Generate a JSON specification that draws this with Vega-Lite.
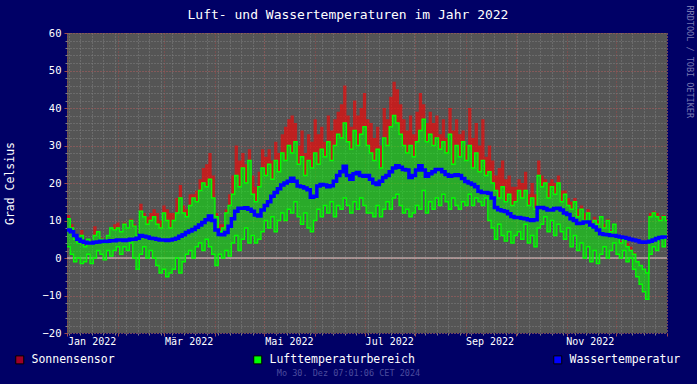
{
"$schema": "https://vega.github.io/schema/vega-lite/v6.json",
"width": 600, "height": 300,
"autosize": {"type": "none"},
"padding": {"left": 67, "top": 33, "right": 30, "bottom": 51},
"background": "#000066",
"title": {"text": "Luft- und Wassertemperaturen im Jahr 2022", "font": "DejaVu Sans Mono", "fontSize": 13, "fontWeight": "normal", "color": "#ffffff", "anchor": "middle", "dx": -19, "offset": -30, "baseline": "bottom"},
"config": {"view": {"fill": "#555555", "stroke": null}},
"data": {"values": [
{"d":"2022-01-01","lo":3,"hi":10.5,"sun":11.5,"w":7.5},
{"d":"2022-01-03","lo":1,"hi":8,"sun":9,"w":7},
{"d":"2022-01-05","lo":-1,"hi":5,"sun":5,"w":6},
{"d":"2022-01-07","lo":0,"hi":4,"sun":4,"w":5},
{"d":"2022-01-09","lo":-1.5,"hi":6,"sun":7.5,"w":4.5},
{"d":"2022-01-11","lo":-1,"hi":3,"sun":3,"w":4.2},
{"d":"2022-01-13","lo":1,"hi":5,"sun":5,"w":4},
{"d":"2022-01-15","lo":-1.5,"hi":4,"sun":4,"w":4},
{"d":"2022-01-17","lo":0,"hi":6,"sun":8.5,"w":4.2},
{"d":"2022-01-19","lo":2,"hi":7,"sun":7,"w":4.3},
{"d":"2022-01-21","lo":1,"hi":5,"sun":5.5,"w":4.5},
{"d":"2022-01-23","lo":-0.5,"hi":4,"sun":4,"w":4.4},
{"d":"2022-01-25","lo":2,"hi":6,"sun":6,"w":4.5},
{"d":"2022-01-27","lo":0.5,"hi":8,"sun":8,"w":4.6},
{"d":"2022-01-29","lo":2,"hi":7.5,"sun":9,"w":4.6},
{"d":"2022-01-31","lo":3,"hi":8,"sun":9.5,"w":4.8},
{"d":"2022-02-02","lo":1,"hi":7,"sun":7,"w":4.8},
{"d":"2022-02-04","lo":3,"hi":9,"sun":9.5,"w":4.7},
{"d":"2022-02-06","lo":2,"hi":8,"sun":8,"w":4.8},
{"d":"2022-02-08","lo":4,"hi":10,"sun":10.5,"w":5},
{"d":"2022-02-10","lo":0,"hi":8.5,"sun":9,"w":5},
{"d":"2022-02-12","lo":-3,"hi":6,"sun":6,"w":5.3},
{"d":"2022-02-14","lo":1,"hi":12.5,"sun":14.5,"w":6},
{"d":"2022-02-16","lo":3,"hi":11,"sun":12,"w":5.8},
{"d":"2022-02-18","lo":0,"hi":9,"sun":11,"w":5.6},
{"d":"2022-02-20","lo":2,"hi":10,"sun":12,"w":5.3},
{"d":"2022-02-22","lo":0,"hi":11,"sun":13,"w":5.2},
{"d":"2022-02-24","lo":-2,"hi":9,"sun":12,"w":5},
{"d":"2022-02-26","lo":-4,"hi":8,"sun":10,"w":4.8},
{"d":"2022-02-28","lo":-3,"hi":12,"sun":14,"w":4.8},
{"d":"2022-03-02","lo":-5,"hi":10,"sun":13,"w":4.7},
{"d":"2022-03-04","lo":-4,"hi":8,"sun":12,"w":4.8},
{"d":"2022-03-06","lo":-3,"hi":10,"sun":12,"w":5},
{"d":"2022-03-08","lo":0,"hi":12,"sun":16,"w":5.3},
{"d":"2022-03-10","lo":-4,"hi":16,"sun":19.5,"w":5.8},
{"d":"2022-03-12","lo":-1,"hi":12,"sun":14,"w":6.2},
{"d":"2022-03-14","lo":1,"hi":11,"sun":13,"w":6.8},
{"d":"2022-03-16","lo":2,"hi":14,"sun":17,"w":7.2},
{"d":"2022-03-18","lo":0,"hi":16,"sun":17,"w":7.6},
{"d":"2022-03-20","lo":3,"hi":15,"sun":18,"w":8.2},
{"d":"2022-03-22","lo":4,"hi":18,"sun":21,"w":8.8},
{"d":"2022-03-24","lo":2,"hi":20,"sun":24,"w":9.5},
{"d":"2022-03-26","lo":5,"hi":19,"sun":25,"w":10.2},
{"d":"2022-03-28","lo":3,"hi":21,"sun":28,"w":11.2},
{"d":"2022-03-30","lo":1,"hi":16,"sun":22,"w":10},
{"d":"2022-04-01","lo":-2,"hi":11,"sun":12,"w":7.5},
{"d":"2022-04-03","lo":1,"hi":7,"sun":9,"w":6.3},
{"d":"2022-04-05","lo":0,"hi":8,"sun":9,"w":6.2},
{"d":"2022-04-07","lo":2,"hi":12,"sun":13,"w":6.8},
{"d":"2022-04-09","lo":0.5,"hi":14,"sun":17,"w":8.5},
{"d":"2022-04-11","lo":4,"hi":17,"sun":22,"w":10.5},
{"d":"2022-04-13","lo":6,"hi":22,"sun":30,"w":12.5},
{"d":"2022-04-15","lo":2,"hi":19,"sun":26,"w":13.3},
{"d":"2022-04-17","lo":5,"hi":24,"sun":28,"w":13.3},
{"d":"2022-04-19","lo":8,"hi":20,"sun":25,"w":13.4},
{"d":"2022-04-21","lo":4,"hi":26,"sun":29,"w":13},
{"d":"2022-04-23","lo":6,"hi":17,"sun":22,"w":12.5},
{"d":"2022-04-25","lo":4,"hi":15,"sun":19,"w":11.5},
{"d":"2022-04-27","lo":5,"hi":19,"sun":23,"w":11.2},
{"d":"2022-04-29","lo":7,"hi":24,"sun":29,"w":12.8},
{"d":"2022-05-01","lo":10,"hi":22,"sun":27,"w":14},
{"d":"2022-05-03","lo":8,"hi":25,"sun":29,"w":15},
{"d":"2022-05-05","lo":11,"hi":21,"sun":26,"w":16.5},
{"d":"2022-05-07","lo":7,"hi":26,"sun":31,"w":17.5},
{"d":"2022-05-09","lo":10,"hi":23,"sun":28,"w":18.5},
{"d":"2022-05-11","lo":12,"hi":28,"sun":33,"w":19.5},
{"d":"2022-05-13","lo":10,"hi":26,"sun":35,"w":20},
{"d":"2022-05-15","lo":13,"hi":30,"sun":37,"w":20.5},
{"d":"2022-05-17","lo":12,"hi":28,"sun":38,"w":21.3},
{"d":"2022-05-19","lo":15,"hi":31,"sun":36,"w":20.5},
{"d":"2022-05-21","lo":11,"hi":25,"sun":30,"w":19.2},
{"d":"2022-05-23","lo":9,"hi":27,"sun":34,"w":19},
{"d":"2022-05-25","lo":12,"hi":22,"sun":28,"w":18.7},
{"d":"2022-05-27","lo":8,"hi":26,"sun":33,"w":18.2},
{"d":"2022-05-29","lo":7,"hi":24,"sun":31,"w":16.2},
{"d":"2022-05-31","lo":10,"hi":28,"sun":37,"w":16.5},
{"d":"2022-06-02","lo":13,"hi":25,"sun":33,"w":19.2},
{"d":"2022-06-04","lo":11,"hi":29,"sun":35,"w":19.6},
{"d":"2022-06-06","lo":14,"hi":27,"sun":31,"w":19.5},
{"d":"2022-06-08","lo":12,"hi":31,"sun":38,"w":19},
{"d":"2022-06-10","lo":15,"hi":26,"sun":34,"w":19.3},
{"d":"2022-06-12","lo":11,"hi":30,"sun":37,"w":20.5},
{"d":"2022-06-14","lo":14,"hi":33,"sun":39,"w":22},
{"d":"2022-06-16","lo":13,"hi":32,"sun":41,"w":23},
{"d":"2022-06-18","lo":16,"hi":36,"sun":46,"w":24.5},
{"d":"2022-06-20","lo":14,"hi":31,"sun":38,"w":22},
{"d":"2022-06-22","lo":12,"hi":29,"sun":35,"w":21},
{"d":"2022-06-24","lo":15,"hi":34,"sun":42,"w":22.5},
{"d":"2022-06-26","lo":13,"hi":30,"sun":38,"w":22.8},
{"d":"2022-06-28","lo":16,"hi":33,"sun":40,"w":22},
{"d":"2022-06-30","lo":14,"hi":35,"sun":44,"w":21.8},
{"d":"2022-07-02","lo":12,"hi":30,"sun":37,"w":22},
{"d":"2022-07-04","lo":12,"hi":28,"sun":36,"w":21},
{"d":"2022-07-06","lo":11,"hi":26,"sun":32,"w":20},
{"d":"2022-07-08","lo":14,"hi":29,"sun":35,"w":19.6},
{"d":"2022-07-10","lo":11,"hi":24,"sun":30,"w":20.5},
{"d":"2022-07-12","lo":13,"hi":32,"sun":40,"w":21.5},
{"d":"2022-07-14","lo":15,"hi":30,"sun":37,"w":22},
{"d":"2022-07-16","lo":13,"hi":35,"sun":43,"w":23},
{"d":"2022-07-18","lo":16,"hi":38,"sun":47,"w":24},
{"d":"2022-07-20","lo":17,"hi":36,"sun":45,"w":24.6},
{"d":"2022-07-22","lo":14,"hi":33,"sun":41,"w":24.2},
{"d":"2022-07-24","lo":12,"hi":30,"sun":37,"w":23.6},
{"d":"2022-07-26","lo":13,"hi":28,"sun":34,"w":23.5},
{"d":"2022-07-28","lo":11,"hi":30,"sun":38,"w":21.5},
{"d":"2022-07-30","lo":12,"hi":27,"sun":33,"w":22},
{"d":"2022-08-01","lo":14,"hi":31,"sun":39,"w":23.5},
{"d":"2022-08-03","lo":13,"hi":34,"sun":44,"w":24.6},
{"d":"2022-08-05","lo":18,"hi":37,"sun":41,"w":23.5},
{"d":"2022-08-07","lo":12,"hi":31,"sun":36,"w":21.8},
{"d":"2022-08-09","lo":15,"hi":33,"sun":39,"w":22.5},
{"d":"2022-08-11","lo":13,"hi":30,"sun":36,"w":23},
{"d":"2022-08-13","lo":16,"hi":32,"sun":38,"w":23.6},
{"d":"2022-08-15","lo":14,"hi":29,"sun":33,"w":23.6},
{"d":"2022-08-17","lo":17,"hi":31,"sun":37,"w":23},
{"d":"2022-08-19","lo":15,"hi":28,"sun":32,"w":22.3},
{"d":"2022-08-21","lo":13,"hi":33,"sun":40,"w":21.8},
{"d":"2022-08-23","lo":16,"hi":25,"sun":34,"w":22},
{"d":"2022-08-25","lo":14,"hi":30,"sun":37,"w":22.2},
{"d":"2022-08-27","lo":13,"hi":27,"sun":33,"w":22},
{"d":"2022-08-29","lo":15,"hi":31,"sun":34,"w":21.2},
{"d":"2022-08-31","lo":14,"hi":26,"sun":30,"w":20.4},
{"d":"2022-09-02","lo":17,"hi":30,"sun":40,"w":20},
{"d":"2022-09-04","lo":14,"hi":24,"sun":32,"w":19.6},
{"d":"2022-09-06","lo":16,"hi":28,"sun":36,"w":19},
{"d":"2022-09-08","lo":15,"hi":23,"sun":30,"w":17.8},
{"d":"2022-09-10","lo":14,"hi":26,"sun":37,"w":17.5},
{"d":"2022-09-12","lo":16,"hi":22,"sun":27,"w":17.5},
{"d":"2022-09-14","lo":10,"hi":23,"sun":30,"w":17.3},
{"d":"2022-09-16","lo":8,"hi":20,"sun":26,"w":16},
{"d":"2022-09-18","lo":5,"hi":18,"sun":22,"w":13.5},
{"d":"2022-09-20","lo":9,"hi":16,"sun":24,"w":12.9},
{"d":"2022-09-22","lo":6,"hi":19,"sun":26,"w":12.6},
{"d":"2022-09-24","lo":4.5,"hi":15,"sun":21,"w":12.4},
{"d":"2022-09-26","lo":7,"hi":17,"sun":22,"w":11.8},
{"d":"2022-09-28","lo":4,"hi":14,"sun":19,"w":11.1},
{"d":"2022-09-30","lo":6,"hi":15,"sun":19,"w":10.8},
{"d":"2022-10-02","lo":7,"hi":18,"sun":21,"w":10.8},
{"d":"2022-10-04","lo":5,"hi":16,"sun":20,"w":10.6},
{"d":"2022-10-06","lo":9,"hi":18,"sun":23,"w":10.5},
{"d":"2022-10-08","lo":4,"hi":14,"sun":17,"w":10.2},
{"d":"2022-10-10","lo":6,"hi":16,"sun":20,"w":10},
{"d":"2022-10-12","lo":3,"hi":13,"sun":17,"w":10.2},
{"d":"2022-10-14","lo":8,"hi":22,"sun":26,"w":13.5},
{"d":"2022-10-16","lo":9,"hi":19,"sun":22,"w":13.5},
{"d":"2022-10-18","lo":11,"hi":20,"sun":21,"w":13.2},
{"d":"2022-10-20","lo":7,"hi":16,"sun":20,"w":12.8},
{"d":"2022-10-22","lo":10,"hi":19,"sun":21,"w":12.8},
{"d":"2022-10-24","lo":6,"hi":17,"sun":20,"w":13.2},
{"d":"2022-10-26","lo":9,"hi":20,"sun":22,"w":13.3},
{"d":"2022-10-28","lo":7,"hi":15,"sun":18,"w":12.8},
{"d":"2022-10-30","lo":5,"hi":17,"sun":18,"w":12},
{"d":"2022-11-01","lo":8,"hi":14,"sun":16,"w":11.6},
{"d":"2022-11-03","lo":3,"hi":13,"sun":15,"w":10.5},
{"d":"2022-11-05","lo":6,"hi":15,"sun":16,"w":10},
{"d":"2022-11-07","lo":2,"hi":11,"sun":13,"w":9.2},
{"d":"2022-11-09","lo":4,"hi":13,"sun":14,"w":9.3},
{"d":"2022-11-11","lo":0,"hi":10,"sun":12,"w":9.6},
{"d":"2022-11-13","lo":3,"hi":12,"sun":13,"w":9.6},
{"d":"2022-11-15","lo":-1,"hi":8,"sun":10,"w":8.8},
{"d":"2022-11-17","lo":2,"hi":10,"sun":11,"w":8.3},
{"d":"2022-11-19","lo":-1.5,"hi":9,"sun":10,"w":7.5},
{"d":"2022-11-21","lo":1,"hi":11,"sun":11,"w":6.5},
{"d":"2022-11-23","lo":3,"hi":8,"sun":9,"w":6.3},
{"d":"2022-11-25","lo":0,"hi":10,"sun":10.5,"w":6.2},
{"d":"2022-11-27","lo":2,"hi":7,"sun":7.5,"w":6},
{"d":"2022-11-29","lo":4,"hi":9,"sun":9,"w":6},
{"d":"2022-12-01","lo":1,"hi":6,"sun":6,"w":5.8},
{"d":"2022-12-03","lo":0,"hi":4,"sun":4.5,"w":5.6},
{"d":"2022-12-05","lo":2,"hi":5,"sun":5,"w":5.5},
{"d":"2022-12-07","lo":-1,"hi":3,"sun":4,"w":5.3},
{"d":"2022-12-09","lo":0,"hi":2,"sun":3,"w":5},
{"d":"2022-12-11","lo":-3,"hi":1,"sun":1.5,"w":4.8},
{"d":"2022-12-13","lo":-5,"hi":-1,"sun":-1,"w":4.6},
{"d":"2022-12-15","lo":-7,"hi":-2,"sun":-2,"w":4.3},
{"d":"2022-12-17","lo":-9,"hi":-3,"sun":-3,"w":4.2},
{"d":"2022-12-19","lo":-11,"hi":-4,"sun":-4,"w":4.3},
{"d":"2022-12-21","lo":1,"hi":11,"sun":12,"w":4.5},
{"d":"2022-12-23","lo":3,"hi":12,"sun":12.5,"w":4.8},
{"d":"2022-12-25","lo":2,"hi":11,"sun":12,"w":5.2},
{"d":"2022-12-27","lo":5,"hi":10,"sun":11,"w":5.5},
{"d":"2022-12-29","lo":3,"hi":11,"sun":11.5,"w":5.6},
{"d":"2022-12-31","lo":6,"hi":10,"sun":10.5,"w":5.6},
{"d":"2023-01-01","lo":6,"hi":10,"sun":10.5,"w":5.6}
]},
"layer": [
{"data": {"values": [{"v": 0}]},
 "mark": {"type": "rule", "color": "#e6cccc", "strokeWidth": 1},
 "encoding": {"y": {"field": "v", "type": "quantitative", "scale": {"domain": [-20, 60], "nice": false, "zero": false}, "axis": null}}},
{"mark": {"type": "area", "interpolate": "step-after", "fillOpacity": 0.62},
 "encoding": {
  "x": {"field": "d", "type": "temporal", "scale": {"type": "utc", "domain": [{"year": 2022, "month": 1, "date": 1, "utc": true}, {"year": 2023, "month": 1, "date": 1, "utc": true}]},
   "axis": {"orient": "bottom", "title": null, "labels": false, "domain": false, "tickCount": {"interval": "week", "step": 1}, "grid": true, "gridColor": "#828282", "gridDash": [1, 2], "gridOpacity": 1, "ticks": true, "tickSize": 2, "tickColor": "#828282"}},
  "y": {"field": "hi", "type": "quantitative", "scale": {"domain": [-20, 60], "nice": false, "zero": false},
   "axis": {"orient": "left", "title": null, "labels": false, "domain": false, "values": [-20,-18,-16,-14,-12,-10,-8,-6,-4,-2,0,2,4,6,8,10,12,14,16,18,20,22,24,26,28,30,32,34,36,38,40,42,44,46,48,50,52,54,56,58,60], "grid": true, "gridColor": "#828282", "gridDash": [1, 2], "gridOpacity": 1, "ticks": true, "tickSize": 2, "tickColor": "#828282"}},
  "y2": {"field": "sun"},
  "color": {"datum": "Sonnensensor", "type": "nominal",
   "scale": {"domain": ["Sonnensensor", "Lufttemperaturbereich", "Wassertemperatur"], "range": ["#ff0000", "#00ff00", "#0000ff"]},
   "legend": {"title": null, "orient": "none", "direction": "horizontal", "legendX": -53, "legendY": 321, "padding": 0, "symbolType": "square", "symbolSize": 64, "symbolStrokeColor": "#000000", "symbolStrokeWidth": 1, "labelFont": "DejaVu Sans Mono", "labelFontSize": 11.5, "labelColor": "#ffffff", "labelOffset": 6, "labelLimit": 400, "columnPadding": 136,
    "encode": {"symbols": {"update": {"fillOpacity": {"signal": "datum.value === 'Sonnensensor' ? 0.62 : 1"}, "opacity": {"value": 1}, "stroke": {"value": "#000000"}, "strokeWidth": {"value": 1}}}}}}
 }},
{"mark": {"type": "area", "interpolate": "step-after", "color": "#00ff00", "fillOpacity": 0.5},
 "encoding": {
  "x": {"field": "d", "type": "temporal", "scale": {"type": "utc", "domain": [{"year": 2022, "month": 1, "date": 1, "utc": true}, {"year": 2023, "month": 1, "date": 1, "utc": true}]},
   "axis": {"orient": "bottom", "title": null, "labels": false, "domain": false, "tickCount": {"interval": "month", "step": 1}, "grid": true, "gridColor": "#9e4a4a", "gridDash": [1, 2], "gridOpacity": 1, "ticks": true, "tickSize": 3, "tickColor": "#9e4a4a"}},
  "y": {"field": "lo", "type": "quantitative", "scale": {"domain": [-20, 60], "nice": false, "zero": false},
   "axis": {"orient": "left", "title": "Grad Celsius", "values": [-20, -10, 0, 10, 20, 30, 40, 50, 60], "domain": false, "grid": true, "gridColor": "#9e4a4a", "gridDash": [1, 2], "gridOpacity": 1, "ticks": true, "tickSize": 3, "tickColor": "#9e4a4a", "labelColor": "#ffffff", "labelFont": "DejaVu Sans Mono", "labelFontSize": 10.5, "labelPadding": 3, "titleColor": "#ffffff", "titleFont": "DejaVu Sans Mono", "titleFontSize": 11.5, "titleFontWeight": "normal", "titleX": -57, "titleY": 150, "titleAlign": "center", "titleBaseline": "middle", "titleAngle": -90}},
  "y2": {"field": "hi"}
 }},
{"mark": {"type": "line", "interpolate": "step-after", "color": "#00ff00", "strokeWidth": 1.3},
 "encoding": {
  "x": {"field": "d", "type": "temporal", "scale": {"type": "utc", "domain": [{"year": 2022, "month": 1, "date": 1, "utc": true}, {"year": 2023, "month": 1, "date": 1, "utc": true}]},
   "axis": {"orient": "bottom", "title": "Mo 30. Dez 07:01:06 CET 2024", "values": [{"year": 2022, "month": 1, "date": 16, "utc": true}, {"year": 2022, "month": 3, "date": 16, "utc": true}, {"year": 2022, "month": 5, "date": 16, "utc": true}, {"year": 2022, "month": 7, "date": 16, "utc": true}, {"year": 2022, "month": 9, "date": 15, "utc": true}, {"year": 2022, "month": 11, "date": 15, "utc": true}],
    "labelExpr": "['Jan','Feb','Mär','Apr','Mai','Jun','Jul','Aug','Sep','Okt','Nov','Dez'][utcmonth(datum.value)] + ' ' + utcyear(datum.value)",
    "grid": false, "ticks": false, "domain": false, "labelColor": "#ffffff", "labelFont": "DejaVu Sans Mono", "labelFontSize": 10, "labelPadding": 3, "labelFlush": false, "labelOverlap": false,
    "titleColor": "#4c4c9e", "titleFont": "DejaVu Sans Mono", "titleFontSize": 8.5, "titleFontWeight": "normal", "titleX": 281, "titleY": 39, "titleAlign": "center", "titleBaseline": "middle"}},
  "y": {"field": "lo", "type": "quantitative", "scale": {"domain": [-20, 60], "nice": false, "zero": false}, "axis": null}
 }},
{"mark": {"type": "line", "interpolate": "step-after", "color": "#00ff00", "strokeWidth": 1.3},
 "encoding": {
  "x": {"field": "d", "type": "temporal", "scale": {"type": "utc", "domain": [{"year": 2022, "month": 1, "date": 1, "utc": true}, {"year": 2023, "month": 1, "date": 1, "utc": true}]}, "axis": null},
  "y": {"field": "hi", "type": "quantitative", "scale": {"domain": [-20, 60], "nice": false, "zero": false},
   "axis": {"orient": "right", "title": "RRDTOOL / TOBI OETIKER", "labels": false, "ticks": false, "domain": false, "grid": false, "titleAngle": 90, "titleX": 22, "titleY": -28, "titleAlign": "left", "titleBaseline": "middle", "titleColor": "#7878b0", "titleFont": "DejaVu Sans Mono", "titleFontSize": 8.5, "titleFontWeight": "normal"}}
 }},
{"mark": {"type": "line", "interpolate": "step-after", "color": "#0000ff", "strokeWidth": 3.5},
 "encoding": {
  "x": {"field": "d", "type": "temporal", "scale": {"type": "utc", "domain": [{"year": 2022, "month": 1, "date": 1, "utc": true}, {"year": 2023, "month": 1, "date": 1, "utc": true}]}, "axis": null},
  "y": {"field": "w", "type": "quantitative", "scale": {"domain": [-20, 60], "nice": false, "zero": false}, "axis": null}
 }}
],
"resolve": {"axis": {"x": "independent", "y": "independent"}}
}
